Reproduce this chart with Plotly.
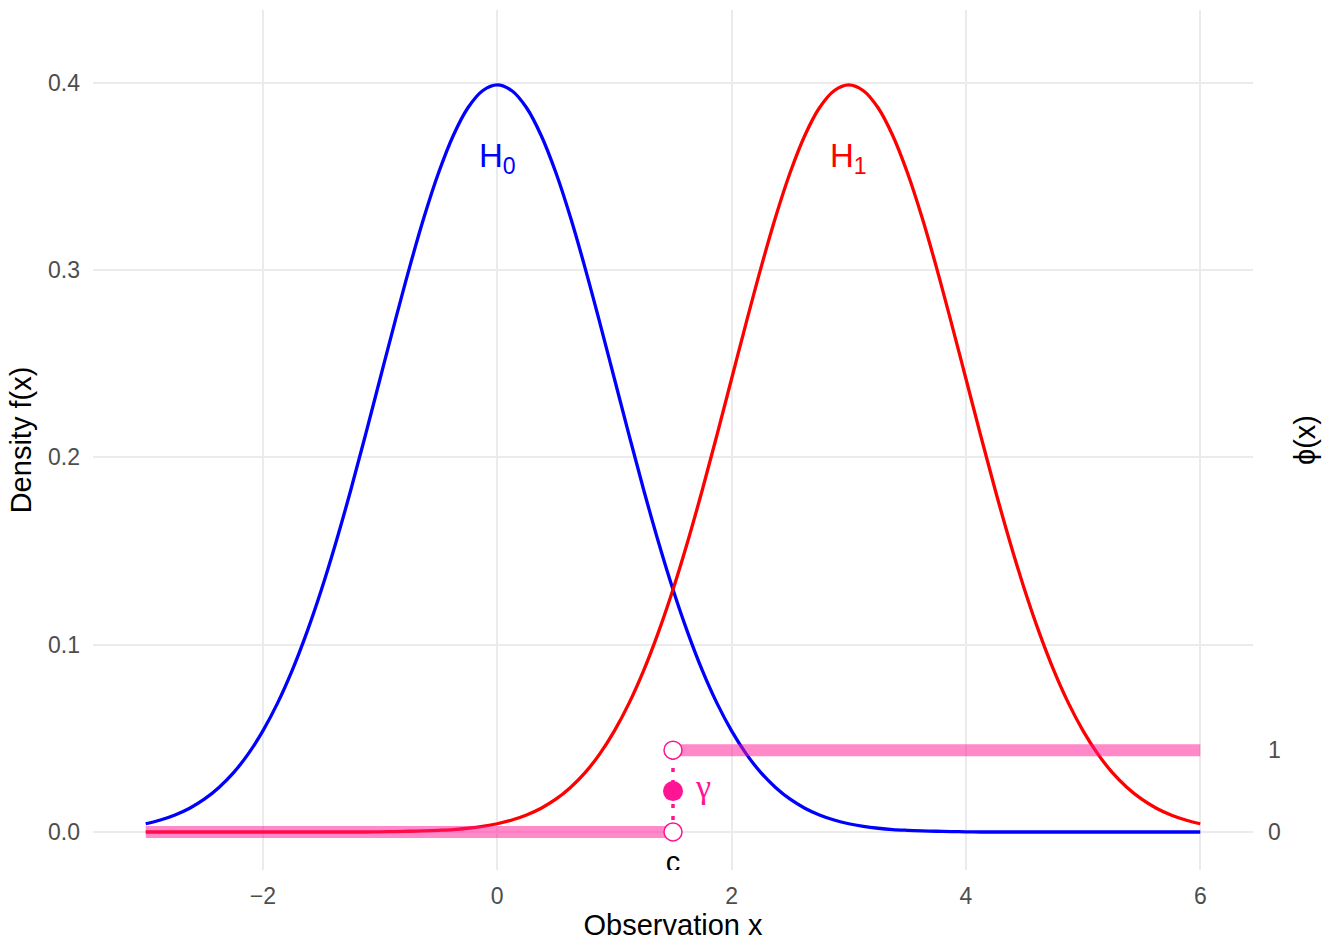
import plotly.graph_objects as go

# ---- data ----
x_grid = [-3.0, -2.875, -2.75, -2.625, -2.5, -2.375, -2.25, -2.125,
          -2.0, -1.875, -1.75, -1.625, -1.5, -1.375, -1.25, -1.125,
          -1.0, -0.875, -0.75, -0.625, -0.5, -0.375, -0.25, -0.125,
          0.0, 0.125, 0.25, 0.375, 0.5, 0.625, 0.75, 0.875,
          1.0, 1.125, 1.25, 1.375, 1.5, 1.625, 1.75, 1.875,
          2.0, 2.125, 2.25, 2.375, 2.5, 2.625, 2.75, 2.875,
          3.0, 3.125, 3.25, 3.375, 3.5, 3.625, 3.75, 3.875,
          4.0, 4.125, 4.25, 4.375, 4.5, 4.625, 4.75, 4.875,
          5.0, 5.125, 5.25, 5.375, 5.5, 5.625, 5.75, 5.875, 6.0]

density_h0 = [0.0044, 0.0064, 0.0091, 0.0127, 0.0175, 0.0238, 0.0317, 0.0417,
              0.0540, 0.0688, 0.0863, 0.1066, 0.1295, 0.1550, 0.1826, 0.2119,
              0.2420, 0.2720, 0.3011, 0.3282, 0.3521, 0.3719, 0.3867, 0.3958,
              0.3989, 0.3958, 0.3867, 0.3719, 0.3521, 0.3282, 0.3011, 0.2720,
              0.2420, 0.2119, 0.1826, 0.1550, 0.1295, 0.1066, 0.0863, 0.0688,
              0.0540, 0.0417, 0.0317, 0.0238, 0.0175, 0.0127, 0.0091, 0.0064,
              0.0044, 0.0030, 0.0020, 0.0013, 0.0009, 0.0006, 0.0004, 0.0002,
              0.0001, 0.0000, 0.0000, 0.0000, 0.0000, 0.0000, 0.0000, 0.0000,
              0.0000, 0.0000, 0.0000, 0.0000, 0.0000, 0.0000, 0.0000, 0.0000, 0.0000]

density_h1 = [0.0000, 0.0000, 0.0000, 0.0000, 0.0000, 0.0000, 0.0000, 0.0000,
              0.0000, 0.0000, 0.0000, 0.0000, 0.0000, 0.0000, 0.0000, 0.0000,
              0.0001, 0.0002, 0.0004, 0.0006, 0.0009, 0.0013, 0.0020, 0.0030,
              0.0044, 0.0064, 0.0091, 0.0127, 0.0175, 0.0238, 0.0317, 0.0417,
              0.0540, 0.0688, 0.0863, 0.1066, 0.1295, 0.1550, 0.1826, 0.2119,
              0.2420, 0.2720, 0.3011, 0.3282, 0.3521, 0.3719, 0.3867, 0.3958,
              0.3989, 0.3958, 0.3867, 0.3719, 0.3521, 0.3282, 0.3011, 0.2720,
              0.2420, 0.2119, 0.1826, 0.1550, 0.1295, 0.1066, 0.0863, 0.0688,
              0.0540, 0.0417, 0.0317, 0.0238, 0.0175, 0.0127, 0.0091, 0.0064, 0.0044]

phi_low_x = [-3.0, 1.5]
phi_low_y = [0, 0]
phi_high_x = [1.5, 6.0]
phi_high_y = [1, 1]
c_value = 1.5
gamma_value = 0.5

h_labels = ["H<sub>0</sub>", "H<sub>1</sub>"]
h_label_x = [0.0, 3.0]
h_label_y = [0.36, 0.36]
h_colors = ["#0000FF", "#FF0000"]

x_ticks = [-2, 0, 2, 4, 6]
y_ticks = [0.0, 0.1, 0.2, 0.3, 0.4]
phi_ticks = [0, 1]

# ---- styling ----
PINK = "#FF1493"
PINK_A = "rgba(255,20,147,0.5)"
GRID = "#EBEBEB"
TICK = "#4D4D4D"
FONT = "Liberation Sans, Arial, sans-serif"

y_range = [-0.0203, 0.4389]
phi_scale = 0.0437
y2_range = [y_range[0] / phi_scale, y_range[1] / phi_scale]

fig = go.Figure()

fig.add_trace(go.Scatter(x=x_grid, y=density_h0, mode="lines",
                         line=dict(color="#0000FF", width=3.3, shape="spline", smoothing=1.0),
                         showlegend=False, hoverinfo="skip"))
fig.add_trace(go.Scatter(x=x_grid, y=density_h1, mode="lines",
                         line=dict(color="#FF0000", width=3.3, shape="spline", smoothing=1.0),
                         showlegend=False, hoverinfo="skip"))

# c label under the axis (clipped by panel)
fig.add_trace(go.Scatter(x=[c_value], y=[-0.0175], mode="text", text=["c"],
                         textfont=dict(family=FONT, size=29, color="black"),
                         cliponaxis=True, showlegend=False, hoverinfo="skip"))

# phi(x) decision function on secondary axis
fig.add_trace(go.Scatter(x=phi_low_x, y=phi_low_y, mode="lines", yaxis="y2",
                         line=dict(color=PINK_A, width=12),
                         showlegend=False, hoverinfo="skip"))
fig.add_trace(go.Scatter(x=phi_high_x, y=phi_high_y, mode="lines", yaxis="y2",
                         line=dict(color=PINK_A, width=12),
                         showlegend=False, hoverinfo="skip"))
fig.add_trace(go.Scatter(x=[c_value, c_value], y=[0, 1], mode="lines", yaxis="y2",
                         line=dict(color=PINK, width=3.5, dash="4px,8px"),
                         showlegend=False, hoverinfo="skip"))
fig.add_trace(go.Scatter(x=[c_value, c_value], y=[0, 1], mode="markers", yaxis="y2",
                         marker=dict(size=18, color="white", line=dict(color=PINK, width=1.5)),
                         showlegend=False, hoverinfo="skip"))
fig.add_trace(go.Scatter(x=[c_value], y=[gamma_value], mode="markers", yaxis="y2",
                         marker=dict(size=20, color=PINK),
                         showlegend=False, hoverinfo="skip"))
fig.add_trace(go.Scatter(x=[c_value + 0.26], y=[gamma_value + 0.02], mode="text", yaxis="y2",
                         text=["γ"], textfont=dict(family="Liberation Serif, DejaVu Serif, serif",
                                                    size=34, color=PINK),
                         showlegend=False, hoverinfo="skip"))

for lab, lx, ly, col in zip(h_labels, h_label_x, h_label_y, h_colors):
    fig.add_annotation(x=lx, y=ly, text=lab, showarrow=False,
                       font=dict(family=FONT, size=33, color=col),
                       xanchor="center", yanchor="middle")

fig.update_layout(
    width=1339, height=952,
    margin=dict(l=93, r=86, t=10, b=82),
    paper_bgcolor="white", plot_bgcolor="white",
    font=dict(family=FONT, color="black"),
    xaxis=dict(range=[-3.45, 6.45], tickvals=x_ticks, showgrid=True, gridcolor=GRID,
               gridwidth=2, zeroline=False, showline=False, ticks="",
               tickfont=dict(size=23, color=TICK), ticklabelstandoff=10,
               title=dict(text="Observation x", font=dict(size=29, color="black"), standoff=1)),
    yaxis=dict(range=y_range, tickvals=y_ticks, tickformat=".1f", showgrid=True,
               gridcolor=GRID, gridwidth=2, zeroline=False, showline=False, ticks="",
               tickfont=dict(size=23, color=TICK), ticklabelstandoff=12,
               title=dict(text="Density f(x)", font=dict(size=29, color="black"), standoff=7)),
    yaxis2=dict(range=y2_range, overlaying="y", side="right", tickvals=phi_ticks,
                showgrid=False, zeroline=False, showline=False, ticks="",
                tickfont=dict(size=23, color=TICK), ticklabelstandoff=14,
                title=dict(text="ϕ(x)", font=dict(size=29, color="black"), standoff=14)),
)

fig.write_html("out.html")
